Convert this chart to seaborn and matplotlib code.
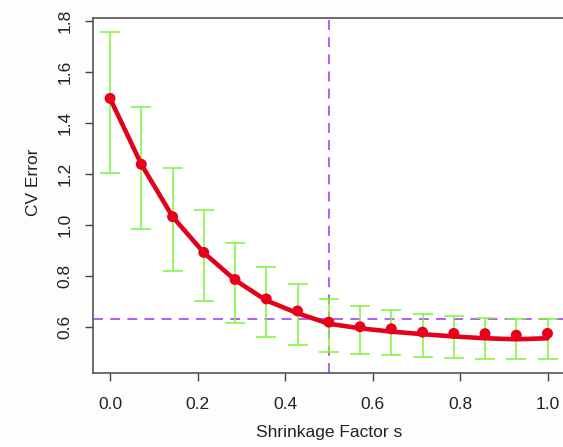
import numpy as np
import pandas as pd
import matplotlib
matplotlib.use("Agg")
import matplotlib.pyplot as plt
import seaborn as sns

# Cross-validation error against the lasso shrinkage factor s
shrinkage = [0.0, 1/14, 2/14, 3/14, 4/14, 5/14, 6/14, 7/14,
             8/14, 9/14, 10/14, 11/14, 12/14, 13/14, 1.0]
cv_mean = [1.496, 1.238, 1.033, 0.893, 0.787, 0.711, 0.664, 0.620,
           0.602, 0.594, 0.581, 0.576, 0.575, 0.569, 0.576]
cv_upper = [1.757, 1.463, 1.222, 1.060, 0.929, 0.834, 0.768, 0.711,
            0.683, 0.668, 0.653, 0.643, 0.638, 0.634, 0.634]
cv_lower = [1.203, 0.984, 0.819, 0.703, 0.616, 0.561, 0.530, 0.502,
            0.495, 0.491, 0.484, 0.480, 0.476, 0.476, 0.476]
# smoothed CV curve evaluated at the same grid
cv_curve = [1.496, 1.238, 1.033, 0.892, 0.785, 0.705, 0.655, 0.614,
            0.596, 0.583, 0.573, 0.564, 0.557, 0.553, 0.557]

chosen_s = 0.5
one_se_level = 0.634

df = pd.DataFrame({"s": shrinkage, "cv": cv_mean, "curve": cv_curve,
                   "lo": cv_lower, "hi": cv_upper})

sns.set_style("white")
plt.rcParams["font.family"] = ["Liberation Sans", "DejaVu Sans"]

fig = plt.figure(figsize=(5.63, 4.47), dpi=100)
fig.patch.set_facecolor("#fdfdfd")
ax = fig.add_axes([93/563, 1 - 373/447, (565 - 93)/563, (373 - 18)/447])
ax.set_facecolor("white")

green = "#7cf53a"
red_line = "#e2001a"
red_pt = "#e8001c"
purple = "#a855f7"

# error bars (one standard error around each fold average)
ax.errorbar(df["s"], df["cv"],
            yerr=[df["cv"] - df["lo"], df["hi"] - df["cv"]],
            fmt="none", ecolor=green, elinewidth=1.1, capsize=7,
            capthick=1.1, zorder=2)

ax.axvline(chosen_s, color=purple, lw=1.3, dashes=(5.5, 4), zorder=1)
ax.axhline(one_se_level, color=purple, lw=1.3, dashes=(5.5, 4), zorder=1)

sns.lineplot(data=df, x="s", y="curve", ax=ax, color=red_line, lw=3.3,
             zorder=3, legend=False)
sns.scatterplot(data=df, x="s", y="cv", ax=ax, color=red_pt, s=62,
                edgecolor="none", zorder=4, legend=False)

ax.set_xlim(-0.039, 1.04)
ax.set_ylim(0.421, 1.8106)
ax.set_xticks([0.0, 0.2, 0.4, 0.6, 0.8, 1.0])
ax.set_xticklabels(["0.0", "0.2", "0.4", "0.6", "0.8", "1.0"])
ax.set_yticks([0.6, 0.8, 1.0, 1.2, 1.4, 1.6, 1.8])
ax.set_yticklabels(["0.6", "0.8", "1.0", "1.2", "1.4", "1.6", "1.8"],
                   rotation=90, va="center")

for side in ["left", "bottom", "top", "right"]:
    ax.spines[side].set_visible(True)
    ax.spines[side].set_color("#555555")
    ax.spines[side].set_linewidth(1.2)

ax.tick_params(axis="both", direction="out", length=6, width=1.0,
               color="#444444", labelsize=12.5, labelcolor="#222222",
               bottom=True, left=True)
ax.tick_params(axis="x", pad=11)
ax.tick_params(axis="y", pad=9)

ax.set_xlabel("Shrinkage Factor s", fontsize=12.5, color="#222222")
ax.set_ylabel("CV Error", fontsize=12.5, color="#222222")
ax.xaxis.set_label_coords((329 - 93) / 472, (373 - 433) / 355)
ax.yaxis.set_label_coords((33 - 93) / 472, (373 - 182) / 355)
ax.xaxis.label.set_va("center")
ax.yaxis.label.set_va("center")

fig.savefig("out.png", dpi=100, facecolor=fig.get_facecolor())
